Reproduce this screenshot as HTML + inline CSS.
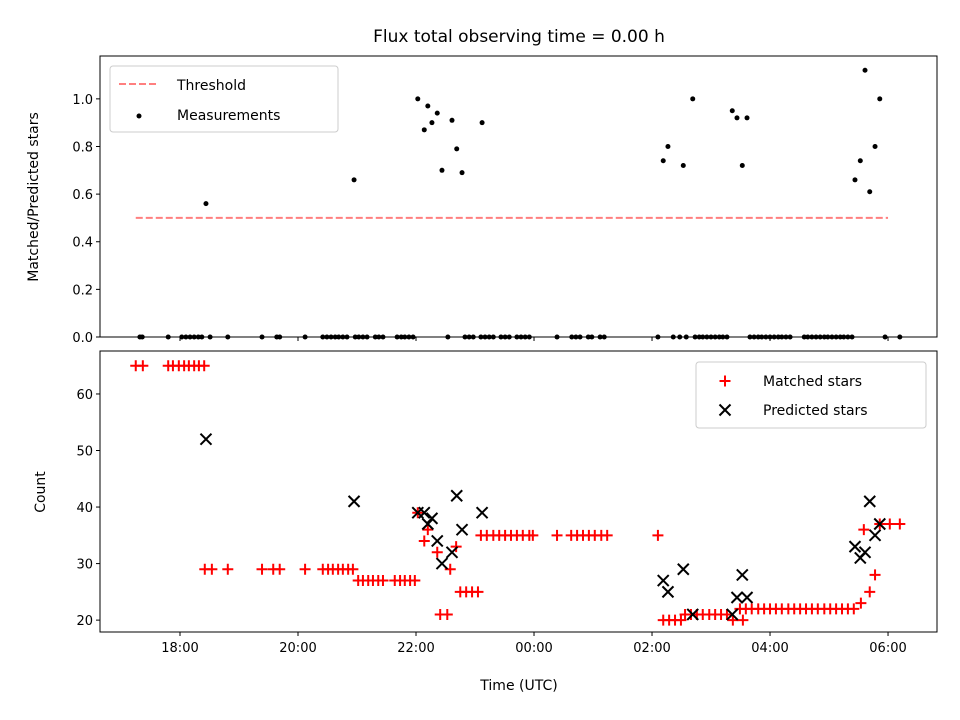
<!DOCTYPE html>
<html><head><meta charset="utf-8"><style>
body{margin:0;background:#fff}
svg{display:block;font-family:"DejaVu Sans","Liberation Sans",sans-serif}
</style></head><body>
<svg id="c" width="960" height="720"></svg>
<script>
// ---- data (hours after 18:00 UTC) ----
const ratioTimes=[0.44,2.95,4.03,4.14,4.20,4.27,4.36,4.44,4.61,4.69,4.78,5.12,8.19,8.27,8.53,8.69,9.36,9.44,9.53,9.61,11.44,11.53,11.61,11.69,11.78,11.86];
const ratioValues=[0.56,0.66,1.0,0.87,0.97,0.90,0.94,0.70,0.91,0.79,0.69,0.90,0.74,0.80,0.72,1.0,0.95,0.92,0.72,0.92,0.66,0.74,1.12,0.61,0.80,1.0];
const zeroTimes=[-0.68,-0.64,-0.2,0.03,0.1,0.17,0.24,0.31,0.37,0.51,0.81,1.39,1.64,1.69,2.12,2.42,2.49,2.56,2.63,2.69,2.76,2.83,2.97,3.03,3.10,3.17,3.31,3.37,3.44,3.68,3.75,3.81,3.88,3.95,4.54,4.83,4.90,4.97,5.10,5.17,5.24,5.31,5.44,5.51,5.58,5.71,5.78,5.85,5.92,6.39,6.64,6.71,6.78,6.92,6.98,7.12,7.19,8.10,8.36,8.47,8.58,8.73,8.80,8.86,8.93,9.0,9.07,9.14,9.20,9.27,9.66,9.73,9.80,9.86,9.93,10.0,10.07,10.14,10.20,10.27,10.34,10.58,10.64,10.71,10.78,10.85,10.92,10.98,11.05,11.12,11.19,11.25,11.32,11.39,11.95,12.20];
const threshold=0.5, thresholdStart=-0.75, thresholdEnd=12.0;
const matchedTimes=[-0.75,-0.63,-0.2,-0.12,-0.02,0.07,0.15,0.24,0.32,0.41,
0.42,0.54,0.81,1.39,1.58,1.69,2.12,2.42,2.51,2.59,2.68,2.76,2.85,2.93,
3.02,3.10,3.19,3.27,3.36,3.44,3.64,3.73,3.81,3.90,3.98,
4.03,4.14,4.20,4.36,4.58,4.68,4.41,4.53,4.75,4.85,4.95,5.05,
5.10,5.20,5.31,5.41,5.51,5.61,5.71,5.81,5.92,5.98,6.39,6.63,6.73,6.83,6.93,7.03,7.14,7.24,8.10,
8.19,8.29,8.39,8.49,8.56,8.66,8.76,8.86,8.97,9.07,9.17,9.27,9.37,9.54,
9.49,9.59,9.69,9.80,9.90,10.0,10.10,10.20,10.31,10.41,10.51,10.61,10.71,10.81,10.92,11.02,11.12,11.22,11.32,11.42,
11.54,11.59,11.69,11.78,11.86,12.03,12.20];
const matchedCounts=[65,65,65,65,65,65,65,65,65,65,
29,29,29,29,29,29,29,29,29,29,29,29,29,29,
27,27,27,27,27,27,27,27,27,27,27,
39,34,36,32,29,33,21,21,25,25,25,25,
35,35,35,35,35,35,35,35,35,35,35,35,35,35,35,35,35,35,35,
20,20,20,20,21,21,21,21,21,21,21,21,20,20,
22,22,22,22,22,22,22,22,22,22,22,22,22,22,22,22,22,22,22,22,
23,36,25,28,37,37,37];
const predictedTimes=ratioTimes;
const predictedCounts=[52,41,39,39,37,38,34,30,32,42,36,39,27,25,29,21,21,24,28,24,33,31,32,41,35,37];
const xTickHours=[0,2,4,6,8,10,12];
const xTickLabels=["18:00","20:00","22:00","00:00","02:00","04:00","06:00"];
const topYTicks=[0,0.2,0.4,0.6,0.8,1.0];
const botYTicks=[20,30,40,50,60];

const NS="http://www.w3.org/2000/svg";
const svg=document.getElementById('c');
function mk(tag,attrs,parent){const e=document.createElementNS(NS,tag);for(const k in attrs)e.setAttribute(k,attrs[k]);(parent||svg).appendChild(e);return e;}
const L=100,R=937;
const xs=h=>L+(h+1.356)/(12.83+1.356)*(R-L);
const T1=56,B1=337,T2=351,B2=632;
const yTop=v=>B1-(v/1.18)*(B1-T1);
const yBot=c=>B2-(c-17.9)/(67.6-17.9)*(B2-T2);

// title
const title=mk('text',{x:519,y:42,'text-anchor':'middle','font-size':17});
title.textContent="Flux total observing time = 0.00 h";



// top panel
const g1=mk('g',{});


const th=mk('line',{x1:xs(thresholdStart),x2:xs(thresholdEnd),y1:yTop(threshold),y2:yTop(threshold),stroke:'#ff0000','stroke-opacity':0.5,'stroke-width':2,'stroke-dasharray':'7,3'},g1);


ratioTimes.forEach((t,i)=>{const d=mk('circle',{cx:xs(t),cy:yTop(ratioValues[i]),r:2.5,fill:'#000'},g1);

});
zeroTimes.forEach(t=>{const d=mk('circle',{cx:xs(t),cy:yTop(0),r:2.5,fill:'#000'},g1);

});
const f1=mk('rect',{x:L,y:T1,width:R-L,height:B1-T1,fill:'none',stroke:'#000','stroke-width':1},g1);


topYTicks.forEach(v=>{mk('line',{x1:L-4,x2:L,y1:yTop(v),y2:yTop(v),stroke:'#000'},g1);
const t=mk('text',{x:L-7,y:yTop(v)+5,'text-anchor':'end','font-size':13},g1);t.textContent=v.toFixed(1);

});
xTickHours.forEach(h=>mk('line',{x1:xs(h),x2:xs(h),y1:B1,y2:B1+4,stroke:'#000'},g1));
const yl1=mk('text',{x:38,y:197,'text-anchor':'middle','font-size':14,transform:'rotate(-90 38 197)'},g1);
yl1.textContent="Matched/Predicted stars";


// top legend
const lg1=mk('g',{},g1);


mk('rect',{x:110,y:66,width:228,height:66,rx:3,fill:'#fff',stroke:'#ccc'},lg1);
mk('line',{x1:119,x2:159,y1:84,y2:84,stroke:'#ff0000','stroke-opacity':0.5,'stroke-width':2,'stroke-dasharray':'7,3'},lg1);
let t=mk('text',{x:177,y:90,'font-size':14},lg1);t.textContent="Threshold";
mk('circle',{cx:139,cy:116,r:2.5,fill:'#000'},lg1);
t=mk('text',{x:177,y:120,'font-size':14},lg1);t.textContent="Measurements";

// bottom panel
const g2=mk('g',{});


function plus(x,y,p,name){const g=mk('g',{},p);mk('path',{d:`M${x-5.5} ${y}H${x+5.5}M${x} ${y-5.5}V${y+5.5}`,stroke:'#ff0000','stroke-width':2},g);

}
function cross(x,y,p,name){const g=mk('g',{},p);mk('path',{d:`M${x-5.5} ${y-5.5}L${x+5.5} ${y+5.5}M${x-5.5} ${y+5.5}L${x+5.5} ${y-5.5}`,stroke:'#000','stroke-width':2},g);

}
matchedTimes.forEach((tm,i)=>plus(xs(tm),yBot(matchedCounts[i]),g2,'matched-star-point'));
predictedTimes.forEach((tm,i)=>cross(xs(tm),yBot(predictedCounts[i]),g2,'predicted-star-point'));
const f2=mk('rect',{x:L,y:T2,width:R-L,height:B2-T2,fill:'none',stroke:'#000','stroke-width':1},g2);


botYTicks.forEach(v=>{mk('line',{x1:L-4,x2:L,y1:yBot(v),y2:yBot(v),stroke:'#000'},g2);
const tt=mk('text',{x:L-7,y:yBot(v)+5,'text-anchor':'end','font-size':13},g2);tt.textContent=v;

});
xTickHours.forEach((h,i)=>{mk('line',{x1:xs(h),x2:xs(h),y1:B2,y2:B2+4,stroke:'#000'},g2);
const tt=mk('text',{x:xs(h),y:B2+20,'text-anchor':'middle','font-size':13},g2);tt.textContent=xTickLabels[i];

});
const xl=mk('text',{x:519,y:690,'text-anchor':'middle','font-size':14},g2);xl.textContent="Time (UTC)";


const yl2=mk('text',{x:45,y:492,'text-anchor':'middle','font-size':14,transform:'rotate(-90 45 492)'},g2);yl2.textContent="Count";


const lg2=mk('g',{},g2);


mk('rect',{x:696,y:362,width:230,height:66,rx:3,fill:'#fff',stroke:'#ccc'},lg2);
plus(725,381,lg2,'legend-matched-marker');
t=mk('text',{x:763,y:386,'font-size':14},lg2);t.textContent="Matched stars";
cross(725,410,lg2,'legend-predicted-marker');
t=mk('text',{x:763,y:415,'font-size':14},lg2);t.textContent="Predicted stars";
</script>
</body></html>
